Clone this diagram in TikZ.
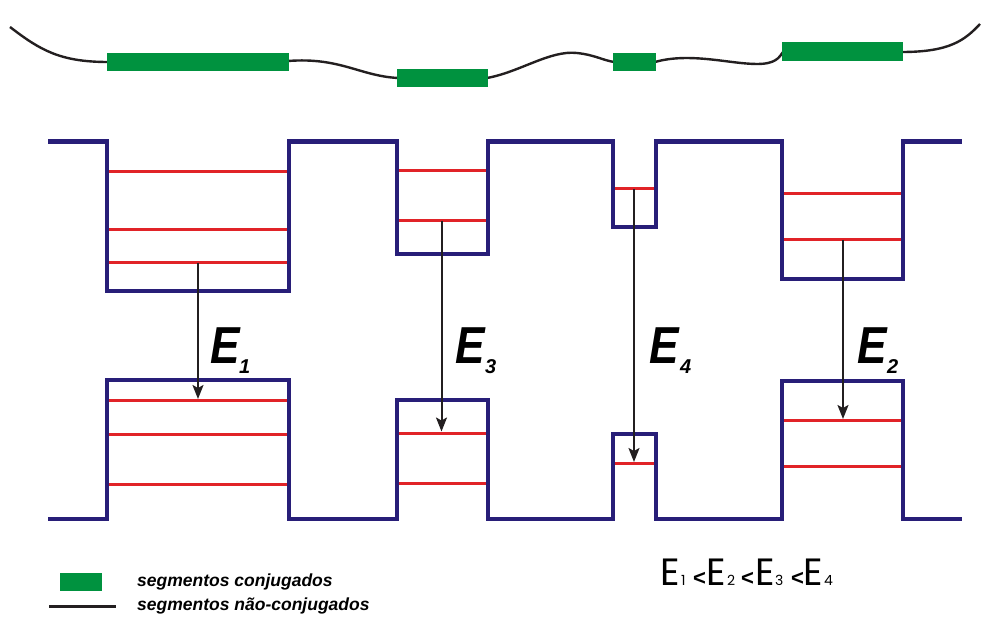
\documentclass[tikz,border=0pt]{standalone}
\usepackage{fontspec}
\usepackage{graphicx}
\usetikzlibrary{arrows.meta}
\setmainfont{Liberation Sans}
\newfontfamily\eqfont{Poppins}
\definecolor{navy}{RGB}{40,30,120}
\definecolor{lvred}{RGB}{225,35,40}
\definecolor{segreen}{RGB}{0,146,63}
\definecolor{chain}{RGB}{35,31,32}
\tikzset{
  band/.style={draw=navy,line width=4.5pt,line join=miter,line cap=butt},
  level/.style={draw=lvred,line width=3pt},
  chainline/.style={draw=chain,line width=2.4pt},
  trans/.style={draw=chain,line width=2pt,-{Stealth[length=14pt,width=11pt,inset=3pt]}},
  elabel/.style={anchor=base west,inner sep=0pt,font=\fontsize{52}{52}\selectfont\bfseries\itshape},
  esub/.style={anchor=base west,inner sep=0pt,font=\fontsize{20}{20}\selectfont\bfseries\itshape},
  legtext/.style={anchor=base west,inner sep=0pt,font=\fontsize{17.5}{17.5}\selectfont\bfseries\itshape},
  eqE/.style={anchor=base west,inner sep=0pt,font=\eqfont\fontsize{38}{38}\selectfont},
  eqsub/.style={anchor=base west,inner sep=0pt,font=\eqfont\fontsize{14}{14}\selectfont},
  eqlt/.style={anchor=base west,inner sep=0pt,font=\fontsize{22}{22}\selectfont\bfseries},
}
\begin{document}
\begin{tikzpicture}[x=1pt,y=-1pt]
\useasboundingbox (0,0) rectangle (982,617);
% polymer chain
\draw[chainline] (10,27) .. controls (40,50) and (60,62) .. (108,62);
\draw[chainline] (288,61) .. controls (340,57) and (360,76) .. (398,78);
\draw[chainline] (487,78) .. controls (520,72) and (550,50) .. (577,53) .. controls (595,55) and (602,60) .. (614,62);
\draw[chainline] (655,62) .. controls (690,52) and (730,64) .. (757,64) .. controls (775,64) and (779,58) .. (783,52);
\draw[chainline] (902,52) .. controls (950,52) and (965,40) .. (980,24);
\fill[segreen] (107,53) rectangle (289,71);
\fill[segreen] (397,69) rectangle (488,87);
\fill[segreen] (613,53) rectangle (656,71);
\fill[segreen] (782,42) rectangle (903,61);
% bands
\draw[band] (48,141.5) -- (107,141.5) -- (107,291) -- (289,291) -- (289,141.5) -- (397,141.5) -- (397,254) -- (488,254) -- (488,141.5) -- (613,141.5) -- (613,227) -- (656,227) -- (656,141.5) -- (782,141.5) -- (782,279) -- (903,279) -- (903,141.5) -- (962,141.5);
\draw[band] (48,519) -- (107,519) -- (107,380) -- (289,380) -- (289,519) -- (397,519) -- (397,400) -- (488,400) -- (488,519) -- (613,519) -- (613,434) -- (656,434) -- (656,519) -- (782,519) -- (782,381) -- (903,381) -- (903,519) -- (962,519);
% levels
\foreach \y in {171.5,229.5,263} \draw[level] (109,\y) -- (287,\y);
\foreach \y in {170.5,221} \draw[level] (399,\y) -- (486,\y);
\draw[level] (615,189) -- (654,189);
\foreach \y in {194,240} \draw[level] (784,\y) -- (901,\y);
\foreach \y in {400.5,434,484} \draw[level] (109,\y) -- (287,\y);
\foreach \y in {433,483} \draw[level] (399,\y) -- (486,\y);
\draw[level] (615,463.5) -- (654,463.5);
\foreach \y in {420.5,466.5} \draw[level] (784,\y) -- (901,\y);
% transitions
\coordinate (a1s) at (198,263); \coordinate (a1e) at (198,399);
\coordinate (a3s) at (441.5,221); \coordinate (a3e) at (441.5,431.5);
\coordinate (a4s) at (634,189); \coordinate (a4e) at (634,462);
\coordinate (a2s) at (843,240); \coordinate (a2e) at (843,419);
\draw[trans] (a1s) -- (a1e);
\draw[trans] (a3s) -- (a3e);
\draw[trans] (a4s) -- (a4e);
\draw[trans] (a2s) -- (a2e);
% labels
\node[elabel,xscale=0.85] (e1) at (210,363) {E};
\node[esub] (e1s) at (239,373) {1};
\node[elabel,xscale=0.85] (e3) at (455,363) {E};
\node[esub] (e3s) at (485,373) {3};
\node[elabel,xscale=0.85] (e4) at (649,363) {E};
\node[esub] (e4s) at (680,373) {4};
\node[elabel,xscale=0.85] (e2) at (857,363) {E};
\node[esub] (e2s) at (887,373) {2};
% legend
\coordinate (lg1) at (60,573); \coordinate (lg2) at (102,591);
\fill[segreen] (lg1) rectangle (lg2);
\coordinate (ll1) at (49,606); \coordinate (ll2) at (116,606);
\draw[draw=chain,line width=3pt] (ll1) -- (ll2);
\node[legtext] (t1) at (137,586) {segmentos conjugados};
\node[legtext] (t2) at (137,610) {segmentos não-conjugados};
% relation
\node[eqE] (q1) at (660,585) {E};
\node[eqsub] (q1s) at (681,585) {1};
\node[eqlt] (q1l) at (693,585) {<};
\node[eqE] (q2) at (706,585) {E};
\node[eqsub] (q2s) at (727,585) {2};
\node[eqlt] (q2l) at (741,585) {<};
\node[eqE] (q3) at (755,585) {E};
\node[eqsub] (q3s) at (775,585) {3};
\node[eqlt] (q3l) at (791,585) {<};
\node[eqE] (q4) at (803,585) {E};
\node[eqsub] (q4s) at (824,585) {4};
\end{tikzpicture}
\end{document}
